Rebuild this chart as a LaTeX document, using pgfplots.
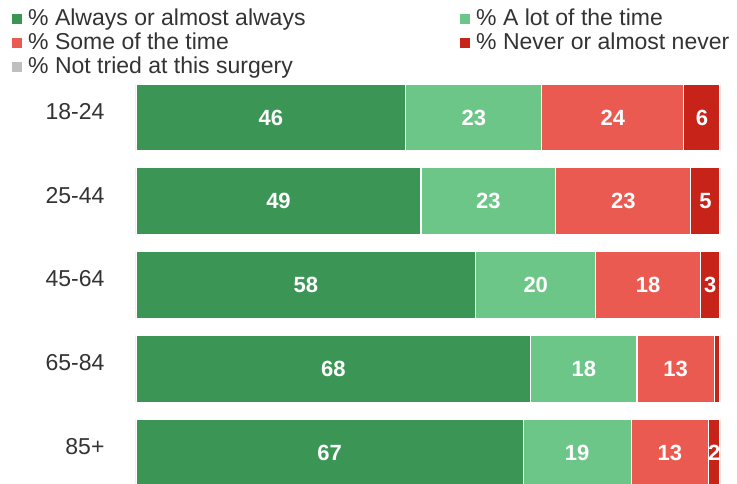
\documentclass[border=0pt]{standalone}
\usepackage{pgfplots}
\pgfplotsset{compat=1.18}
\usepackage{fontspec}
\setmainfont{Liberation Sans}

\definecolor{always}{RGB}{59,150,86}
\definecolor{alot}{RGB}{108,198,136}
\definecolor{some}{RGB}{235,90,80}
\definecolor{never}{RGB}{200,35,25}
\definecolor{nottried}{RGB}{191,191,191}
\definecolor{txt}{RGB}{51,51,51}

\begin{document}
\begin{tikzpicture}[x=1pt,y=1pt]
\useasboundingbox (0,0) rectangle (737,483);
\begin{axis}[
    at={(136pt,0pt)}, anchor=south west,
    scale only axis, width=584pt, height=407.4pt,
    xbar stacked, bar width=67pt,
    xmin=0, xmax=100, ymin=-0.5, ymax=4.364, y dir=reverse,
    axis line style={draw=none},
    xtick=\empty,
    ytick={0,1,2,3,4},
    yticklabels={18-24,25-44,45-64,65-84,85+},
    major tick length=0pt,
    yticklabel style={font=\fontsize{23}{26}\selectfont, text=txt, xshift=-28pt, yshift=6pt},
    nodes near coords,
    point meta=explicit symbolic,
    every node near coord/.append style={font=\fontsize{22}{24}\selectfont\bfseries, text=white},
    legend columns=2,
    legend cell align=left,
    legend style={draw=none, fill=none, inner sep=0pt, row sep=0pt,
        nodes={inner sep=0pt, text height=17pt, text depth=7pt},
        at={(-0.2123,1.166)}, anchor=north west,
        font=\fontsize{23}{24}\selectfont, text=txt},
    legend image code/.code={
        \fill[#1,draw=none] (0pt,-4pt) rectangle (10pt,6pt);
        \path[draw=none,fill=none] (0pt,0pt) -- (16pt,0pt);},
]
\addplot[fill=always, draw=white, line width=1.2pt] coordinates {
    (46.2,0) [46] (48.8,1) [49] (58.2,2) [58] (67.6,3) [68] (66.3,4) [67]
};
\addlegendentry{\makebox[432pt][l]{\% Always or almost always}}
\addplot[fill=alot, draw=white, line width=1.2pt] coordinates {
    (23.3,0) [23] (23.1,1) [23] (20.5,2) [20] (18.2,3) [18] (18.5,4) [19]
};
\addlegendentry{\% A lot of the time}
\addplot[fill=some, draw=white, line width=1.2pt] coordinates {
    (24.3,0) [24] (23.1,1) [23] (18.0,2) [18] (13.2,3) [13] (13.2,4) [13]
};
\addlegendentry{\makebox[432pt][l]{\% Some of the time}}
\addplot[fill=never, draw=white, line width=1.2pt] coordinates {
    (6.2,0) [6] (5.0,1) [5] (3.3,2) [3] (1.0,3) [] (2.0,4) [2]
};
\addlegendentry{\% Never or almost never}
\addplot[fill=nottried, draw=none] coordinates {
    (0,0) [] (0,1) [] (0,2) [] (0,3) [] (0,4) []
};
\addlegendentry{\makebox[432pt][l]{\% Not tried at this surgery}}
\end{axis}
\end{tikzpicture}
\end{document}
